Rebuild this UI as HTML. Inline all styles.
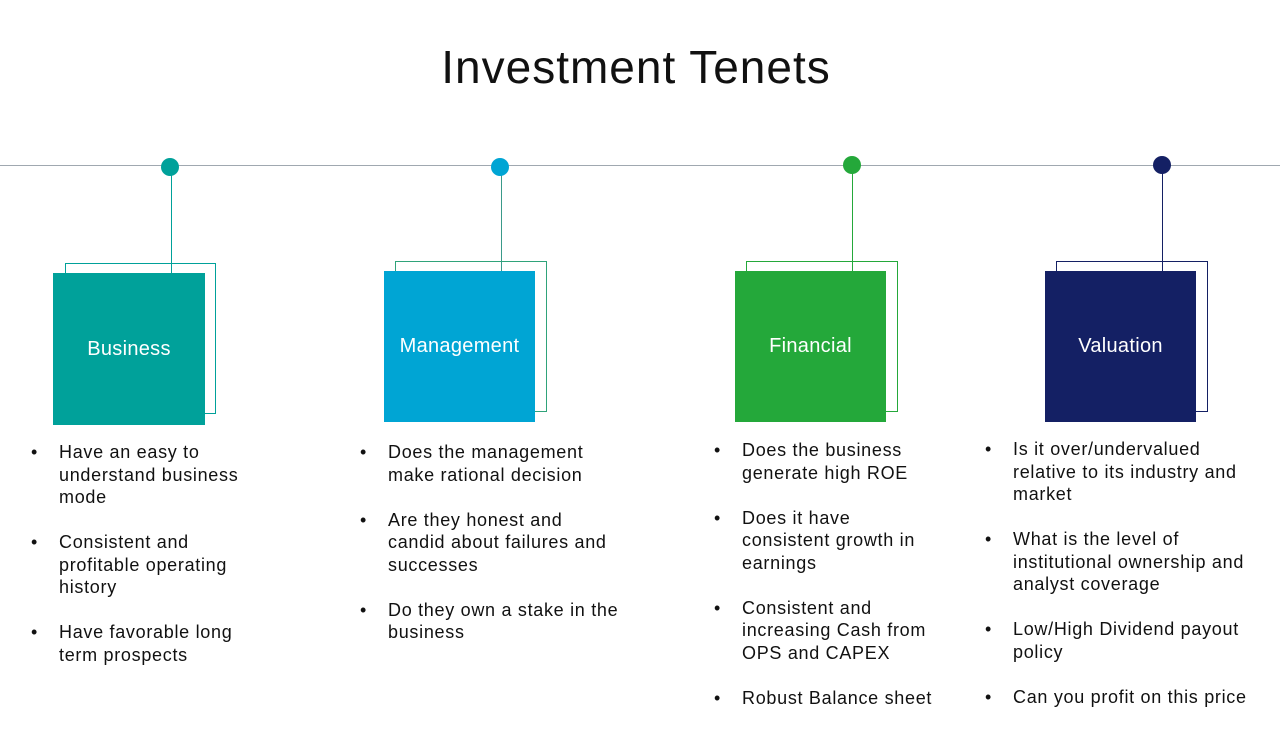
<!DOCTYPE html>
<html><head><meta charset="utf-8"><style>
body{margin:0;width:1280px;height:720px;position:relative;background:#fff;font-family:"Liberation Sans",sans-serif;overflow:hidden}
.abs{position:absolute}
.title{left:0;width:1272px;top:40px;text-align:center;font-size:46px;letter-spacing:1px;color:#111}
.hl{left:0;top:165px;width:1280px;height:1px;background:#a0a8b0}
.dot{width:18px;height:18px;border-radius:50%}
.vl{width:1px}
.ol{border:1px solid;box-sizing:border-box}
.box{color:#fff;font-size:20px;display:flex;align-items:center;justify-content:center;box-sizing:border-box;letter-spacing:0.3px}
.list{font-size:18px;line-height:22.5px;color:#111;white-space:nowrap;letter-spacing:0.7px}
.li{position:relative;padding-left:30px;margin-bottom:22.5px}
.li:before{content:"•";position:absolute;left:2px;top:0}
</style></head><body>
<div class="abs title">Investment Tenets</div>
<div class="abs hl"></div>

<div class="abs vl" style="left:171px;top:167px;height:106px;background:#00a19a"></div>
<div class="abs dot" style="left:161px;top:158px;background:#00a19a"></div>
<div class="abs ol" style="left:65px;top:263px;width:151px;height:151px;border-color:#00a19a"></div>
<div class="abs box" style="left:53px;top:273px;width:152px;height:152px;background:#00a19a">Business</div>

<div class="abs vl" style="left:501px;top:167px;height:104px;background:#3a9a8a"></div>
<div class="abs dot" style="left:491px;top:158px;background:#00a5d4"></div>
<div class="abs ol" style="left:395px;top:261px;width:152px;height:151px;border-color:#2fa37a"></div>
<div class="abs box" style="left:384px;top:271px;width:151px;height:151px;background:#00a5d4">Management</div>

<div class="abs vl" style="left:852px;top:165px;height:106px;background:#24a83a"></div>
<div class="abs dot" style="left:843px;top:156px;background:#24a83a"></div>
<div class="abs ol" style="left:746px;top:261px;width:152px;height:151px;border-color:#24a83a"></div>
<div class="abs box" style="left:735px;top:271px;width:151px;height:151px;background:#24a83a">Financial</div>

<div class="abs vl" style="left:1162px;top:165px;height:106px;background:#142064"></div>
<div class="abs dot" style="left:1153px;top:156px;background:#142064"></div>
<div class="abs ol" style="left:1056px;top:261px;width:152px;height:151px;border-color:#142064"></div>
<div class="abs box" style="left:1045px;top:271px;width:151px;height:151px;background:#142064">Valuation</div>

<div class="abs list" style="left:29px;top:441px">
<div class="li">Have an easy to<br>understand business<br>mode</div>
<div class="li">Consistent and<br>profitable operating<br>history</div>
<div class="li">Have favorable long<br>term prospects</div>
</div>
<div class="abs list" style="left:358px;top:441px">
<div class="li">Does the management<br>make rational decision</div>
<div class="li">Are they honest and<br>candid about failures and<br>successes</div>
<div class="li">Do they own a stake in the<br>business</div>
</div>
<div class="abs list" style="left:712px;top:439px">
<div class="li">Does the business<br>generate high ROE</div>
<div class="li">Does it have<br>consistent growth in<br>earnings</div>
<div class="li">Consistent and<br>increasing Cash from<br>OPS and CAPEX</div>
<div class="li">Robust Balance sheet</div>
</div>
<div class="abs list" style="left:983px;top:438px">
<div class="li">Is it over/undervalued<br>relative to its industry and<br>market</div>
<div class="li">What is the level of<br>institutional ownership and<br>analyst coverage</div>
<div class="li">Low/High Dividend payout<br>policy</div>
<div class="li">Can you profit on this price</div>
</div>
</body></html>
